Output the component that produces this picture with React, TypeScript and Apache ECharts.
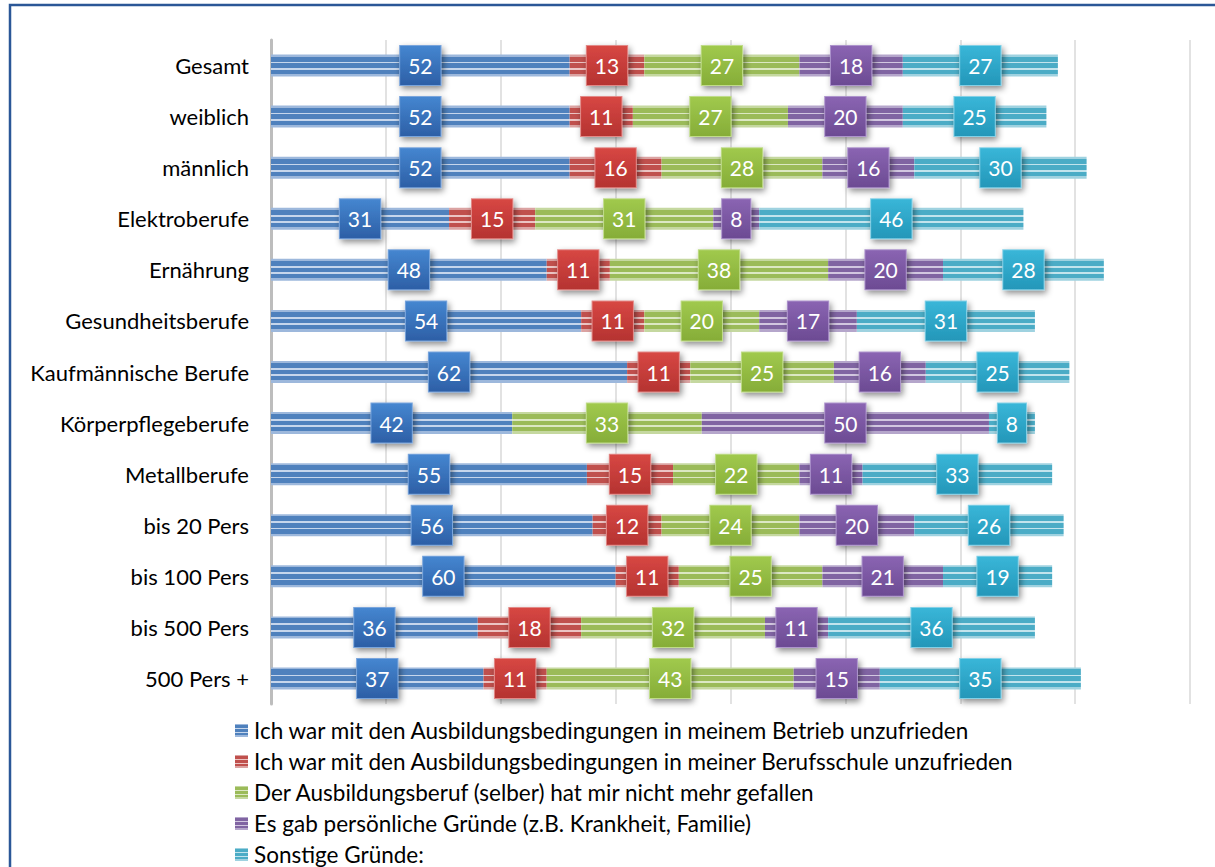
import React, { useEffect, useRef } from "react";
import * as echarts from "echarts";

const categories = [
  "Gesamt",
  "weiblich",
  "männlich",
  "Elektroberufe",
  "Ernährung",
  "Gesundheitsberufe",
  "Kaufmännische Berufe",
  "Körperpflegeberufe",
  "Metallberufe",
  "bis 20 Pers",
  "bis 100 Pers",
  "bis 500 Pers",
  "500 Pers +",
];

const seriesNames = [
  "Ich war mit den Ausbildungsbedingungen in meinem Betrieb unzufrieden",
  "Ich war mit den Ausbildungsbedingungen in meiner Berufsschule unzufrieden",
  "Der Ausbildungsberuf (selber) hat mir nicht mehr gefallen",
  "Es gab persönliche Gründe (z.B. Krankheit, Familie)",
  "Sonstige Gründe:",
];

const betrieb = [52, 52, 52, 31, 48, 54, 62, 42, 55, 56, 60, 36, 37];
const berufsschule = [13, 11, 16, 15, 11, 11, 11, null, 15, 12, 11, 18, 11];
const beruf = [27, 27, 28, 31, 38, 20, 25, 33, 22, 24, 25, 32, 43];
const persoenlich = [18, 20, 16, 8, 20, 17, 16, 50, 11, 20, 21, 11, 15];
const sonstige = [27, 25, 30, 46, 28, 31, 25, 8, 33, 26, 19, 36, 35];

const seriesData = [betrieb, berufsschule, beruf, persoenlich, sonstige];

const barBase = ["#4f81bd", "#c0504d", "#9bbb59", "#8064a2", "#4bacc6"];
const barLight = ["#c6d6ec", "#ecc4c3", "#dce8c4", "#d2c7e0", "#c2e4ed"];
const barEdge = ["#9db8dc", "#dba3a2", "#c5d8a0", "#b5a6cb", "#9fd2e0"];
const boxTop = ["#4586d0", "#d74743", "#a0c94d", "#8a64b2", "#39b6d8"];
const boxBottom = ["#2d5fa6", "#b53331", "#86ad38", "#6c4b93", "#2497b9"];
const boxBorder = ["#7aa5dc", "#e28a88", "#c0dc8a", "#ad94cc", "#84d0e6"];

const FONT = "Lato, 'Open Sans', sans-serif";

function stripes(i: number) {
  const B = barBase[i];
  const L = barLight[i];
  const E = barEdge[i];
  const s: [number, string][] = [
    [0, E], [0.09, E],
    [0.09, B], [0.32, B],
    [0.32, L], [0.40, L],
    [0.40, B], [0.61, B],
    [0.61, L], [0.69, L],
    [0.69, B], [0.88, B],
    [0.88, E], [1, E],
  ];
  return new echarts.graphic.LinearGradient(
    0, 0, 0, 1,
    s.map(([offset, color]) => ({ offset, color }))
  );
}

export default function App() {
  const ref = useRef<HTMLDivElement>(null);
  useEffect(() => {
    if (!ref.current) return;
    const chart = echarts.init(ref.current, undefined, { renderer: "svg" });
    const series = seriesData.map((data, i) => ({
      name: seriesNames[i],
      type: "bar",
      stack: "total",
      barWidth: 22,
      data,
      itemStyle: { color: stripes(i) },
      label: {
        show: true,
        position: "inside",
        formatter: (p: any) => (p.value ? String(p.value) : ""),
        color: "#ffffff",
        fontFamily: FONT,
        fontSize: 21,
        lineHeight: 23,
        padding: [8, 8, 8, 8],
        backgroundColor: new echarts.graphic.LinearGradient(0, 0, 0, 1, [
          { offset: 0, color: boxTop[i] },
          { offset: 1, color: boxBottom[i] },
        ]),
        borderColor: boxBorder[i],
        borderWidth: 1,
        shadowBlur: 6,
        shadowColor: "rgba(0,0,0,0.45)",
        shadowOffsetX: 2,
        shadowOffsetY: 3,
      },
      emphasis: { disabled: true },
    }));
    chart.setOption({
      animation: false,
      backgroundColor: "#ffffff",
      grid: { left: 271, right: 25, top: 40, bottom: 163, containLabel: false },
      xAxis: {
        type: "value",
        min: 0,
        max: 160,
        interval: 20,
        axisLabel: { show: false },
        axisLine: { show: false },
        axisTick: { show: false },
        splitLine: { show: true, lineStyle: { color: "#d9d9d9", width: 1.5 } },
      },
      yAxis: {
        type: "category",
        data: categories,
        inverse: true,
        axisLine: { show: true, lineStyle: { color: "#bdbdbd", width: 3 } },
        axisTick: { show: false },
        axisLabel: { color: "#000000", fontFamily: FONT, fontSize: 22, margin: 22 },
      },
      legend: {
        orient: "vertical",
        left: 235,
        top: 719,
        height: 170,
        padding: 0,
        itemWidth: 13,
        itemHeight: 13,
        itemGap: 8,
        icon: "rect",
        textStyle: {
          color: "#000000",
          fontFamily: FONT,
          fontSize: 22.5,
          lineHeight: 22,
          padding: [0, 0, 0, 1],
        },
        data: seriesNames,
      },
      graphic: [
        {
          type: "rect",
          shape: { x: 10, y: 5, width: 1300, height: 900 },
          style: { fill: "none", stroke: "#2b5797", lineWidth: 2.5 },
          silent: true,
        },
      ],
      series,
    });
    return () => chart.dispose();
  }, []);
  return (
    <div
      ref={ref}
      style={{ position: "fixed", left: 0, top: 0, width: 1215, height: 867 }}
    />
  );
}
